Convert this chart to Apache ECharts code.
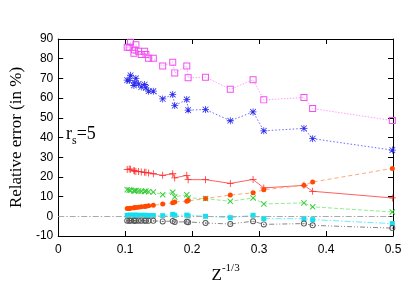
<!DOCTYPE html>
<html><head><meta charset="utf-8">
<script src="https://cdn.jsdelivr.net/npm/echarts@6/dist/echarts.min.js"></script>
<style>html,body{margin:0;padding:0;background:#fff}#c{width:415px;height:291px}</style>
</head><body><div id="c"></div>
<script>
const zInv = [0.103,0.106,0.108,0.113,0.114,0.116,0.120,0.124,0.129,0.131,0.135,0.142,0.156,0.171,0.174,0.192,0.194,0.220,0.257,0.291,0.307,0.367,0.380,0.499];
const magenta = [85.8,85.8,88.3,82.8,84.4,87.1,83.8,82.1,83.8,82.1,80.2,80.2,76.3,78.2,72.8,76.3,70.3,70.6,64.5,69.3,59.1,60.3,54.7,48.6];
const blue    = [69.1,68.9,71.6,66.4,67.7,70.0,67.2,65.6,66.9,65.2,63.5,63.5,59.6,61.8,56.2,59.3,53.9,54.2,48.5,53.0,43.4,44.6,39.4,33.6];
const red     = [23.7,24.0,23.9,23.2,23.0,22.8,22.8,22.5,22.3,22.3,22.0,21.6,20.8,21.6,19.5,20.8,18.6,18.6,16.7,18.7,14.4,15.7,12.7,9.3];
const green   = [13.5,13.3,13.2,13.0,12.8,13.1,12.9,12.7,12.6,12.8,12.5,12.3,11.0,12.2,9.8,11.0,9.3,9.0,7.6,9.3,6.3,6.8,4.8,2.2];
const orange  = [3.9,4.0,4.1,4.3,4.4,4.5,4.6,4.8,5.0,5.1,5.3,5.6,6.2,6.9,7.3,7.7,8.0,9.0,10.8,11.9,13.5,15.7,17.4,24.3];
const cyan    = [0.5,0.5,0.6,0.5,0.5,0.6,0.5,0.5,0.5,0.5,0.4,0.4,0.3,1.0,0.5,0.6,0.2,0.0,-0.7,0.5,-1.2,-1.2,-1.7,-3.7];
const black   = [-2.2,-2.2,-2.2,-2.2,-2.2,-2.2,-2.2,-2.2,-2.2,-2.2,-2.3,-2.3,-2.6,-2.4,-2.9,-2.8,-3.0,-3.4,-3.9,-2.5,-4.1,-3.7,-4.6,-6.0];
const xTicks = [0,0.1,0.2,0.3,0.4,0.5];
const yTicks = [-10,0,10,20,30,40,50,60,70,80,90];

const pair = arr => zInv.map((x,i)=>[x,arr[i]]);
const PLUS = 'path://M4,0h1v4h4v1h-4v4h-1v-4h-4v-1h4z';
const CROSS = 'path://M0,1L1,0L4.5,3.5L8,0L9,1L5.5,4.5L9,8L8,9L4.5,5.5L1,9L0,8L3.5,4.5Z';
const STAR = 'path://M4,0h1v4h4v1h-4v4h-1v-4h-4v-1h4zM1.2,0.5L4.5,3.8L7.8,0.5L8.5,1.2L5.2,4.5L8.5,7.8L7.8,8.5L4.5,5.2L1.2,8.5L0.5,7.8L3.8,4.5L0.5,1.2Z';
const OSQ = 'path://M0,0H10V10H0ZM1.4,1.4V8.6H8.6V1.4Z';
const ODOT = 'path://M5,0A5,5 0 1,1 5,10A5,5 0 1,1 5,0ZM5,1.5A3.5,3.5 0 1,0 5,8.5A3.5,3.5 0 1,0 5,1.5ZM5,4A1,1 0 1,1 5,6A1,1 0 1,1 5,4Z';

function mk(name, data, sym, size, mColor, lColor, lType){
  return {
    name, type:'line', data: pair(data), symbol: sym, symbolSize: size,
    showAllSymbol: true, animation:false,
    lineStyle:{color:lColor, width: 1, type:lType},
    itemStyle: {color:mColor, borderWidth:0},
    z: 3
  };
}

const chart = echarts.init(document.getElementById('c'));
const axisCommon = {
  axisLine:{show:true, onZero:false, lineStyle:{color:'#000', width:1}},
  axisTick:{show:true, inside:true, length:5, lineStyle:{color:'#000'}},
  splitLine:{show:false}
};
const series = [
  mk('magenta', magenta, OSQ, 7, '#f050f0', '#ffa0ff', [1.5,1.5]),
  mk('blue', blue, STAR, 7, '#2a2aee', '#6a6aff', [1.5,2]),
  mk('red', red, PLUS, 7, '#ff2a2a', '#ff6060', 'solid'),
  mk('green', green, CROSS, 6, '#33cc33', '#90ee90', [4,2]),
  mk('orange', orange, 'circle', 5, '#ff4a00', '#ffa878', [4,3]),
  mk('cyan', cyan, 'rect', 5, '#10e0f0', '#66eeff', [6,2,1.5,2]),
  mk('black', black, ODOT, 6, '#555', '#888', [5,2,1,2,1,2])
];
series[6].markLine = {
  silent:true, symbol:'none', animation:false, label:{show:false},
  lineStyle:{color:'#aaa', type:[6,2,1.5,2], width:1},
  data:[{yAxis:0}]
};
chart.setOption({
  backgroundColor:'#fff',
  animation:false,
  grid:{left:56, right:22, top:39, bottom:55},
  xAxis:[
    Object.assign({type:'value', min:xTicks[0], max:xTicks[xTicks.length-1], interval:0.1, position:'bottom',
      axisLabel:{color:'#000', fontFamily:'Liberation Sans', fontSize:12, margin:8},
      name:'{z|Z}{s|-1/3}', nameLocation:'middle', nameGap:27,
      nameTextStyle:{rich:{z:{fontFamily:'Liberation Serif', fontSize:17, color:'#000', verticalAlign:'bottom'}, s:{fontFamily:'Liberation Serif', fontSize:11, color:'#000', padding:[0,0,10,0], verticalAlign:'bottom'}}}
    }, axisCommon),
    Object.assign({type:'value', min:0, max:0.5, interval:0.1, position:'top', axisLabel:{show:false}}, axisCommon)
  ],
  yAxis:[
    Object.assign({type:'value', min:yTicks[0], max:yTicks[yTicks.length-1], interval:10, position:'left',
      axisLabel:{color:'#000', fontFamily:'Liberation Sans', fontSize:12, margin:5},
      name:'Relative error (in %)', nameLocation:'middle', nameGap:32, nameRotate:90,
      nameTextStyle:{fontFamily:'Liberation Serif', fontSize:17, color:'#000'}
    }, axisCommon),
    Object.assign({type:'value', min:-10, max:90, interval:10, position:'right', axisLabel:{show:false}}, axisCommon)
  ],
  graphic:[{
    type:'text', left:66, top:125,
    style:{
      text:'{r|r}{s|s}{r|=5}',
      rich:{r:{fontFamily:'Liberation Serif', fontSize:18, fill:'#000', verticalAlign:'top'}, s:{fontFamily:'Liberation Serif', fontSize:12, fill:'#000', padding:[10,0,0,0], verticalAlign:'top'}}
    }
  }],
  series
});
</script></body></html>
